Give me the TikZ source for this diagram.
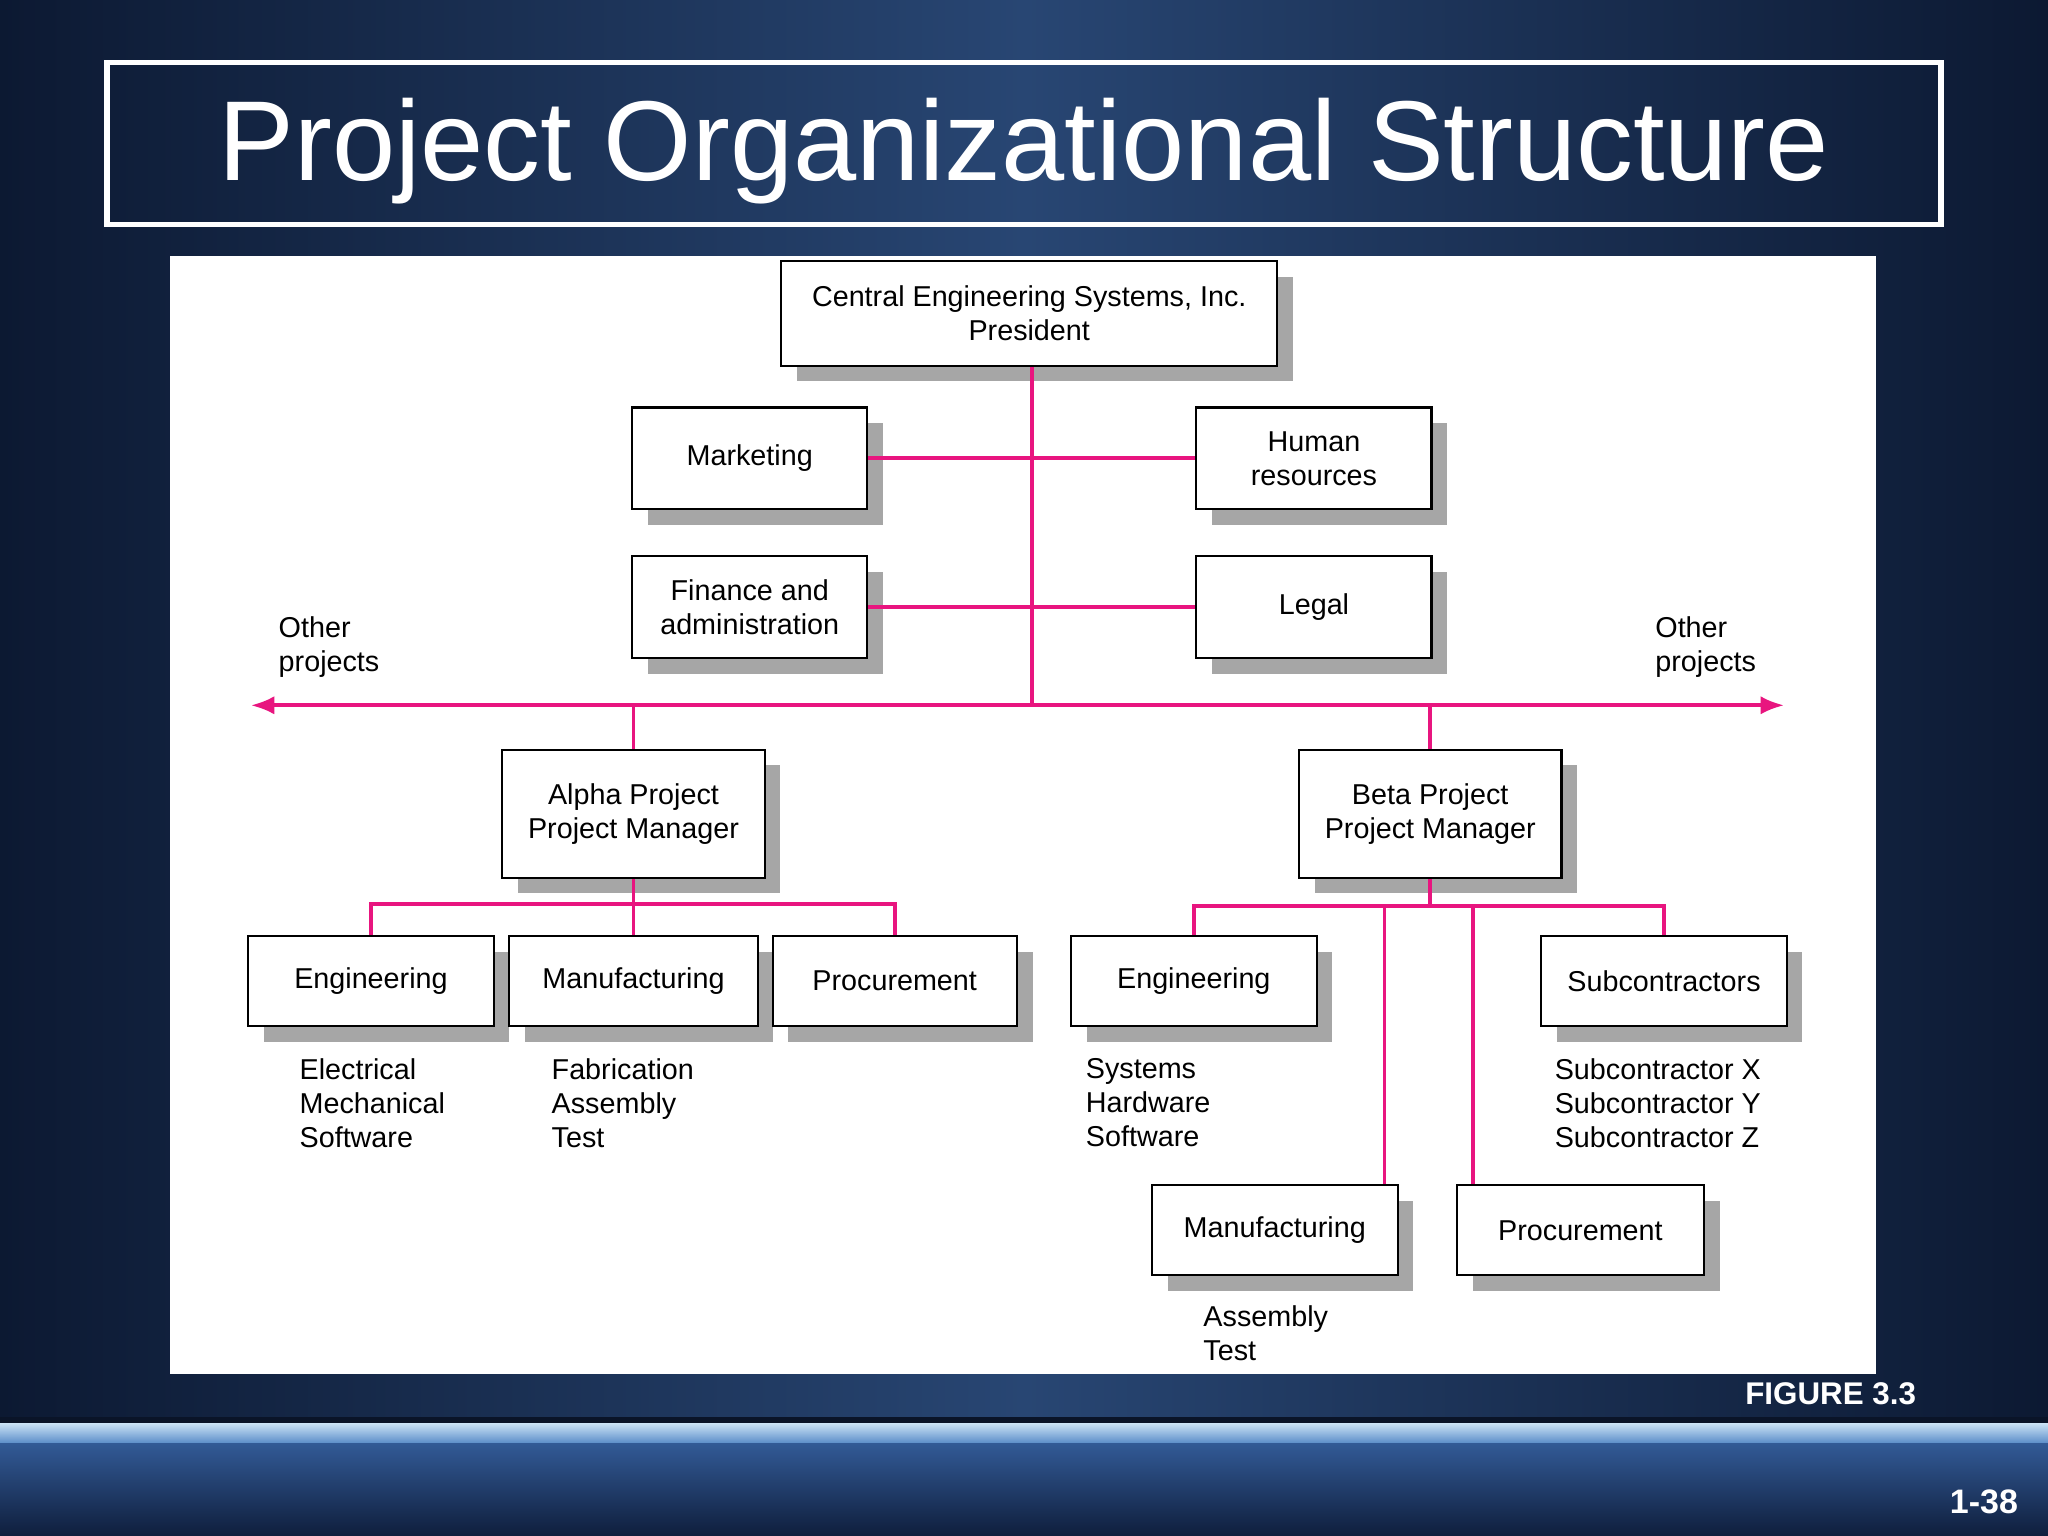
\documentclass[tikz,border=0pt]{standalone}
\usepackage{fontspec}
\setmainfont{Liberation Sans}
\usetikzlibrary{shadows,arrows.meta}
\definecolor{pinkl}{HTML}{E8157F}
\definecolor{bgmid}{RGB}{40,70,115}
\definecolor{bgdark}{RGB}{12,25,50}
\definecolor{bgdarker}{RGB}{10,20,40}
\definecolor{stripe}{RGB}{200,225,245}
\definecolor{stripeb}{RGB}{90,140,200}
\definecolor{bot1}{RGB}{50,90,150}
\definecolor{bot2}{RGB}{15,30,60}
\tikzset{
  box/.style={draw=black, thick, fill=white, align=center, font=\fontsize{11}{13}\selectfont,
    drop shadow={shadow xshift=6pt, shadow yshift=-6pt, fill=black!35, opacity=1}, inner sep=0pt},
  lbl/.style={align=left, anchor=north west, font=\fontsize{11}{13}\selectfont, inner sep=0pt},
  conn/.style={draw=pinkl, line width=1.5pt},
}
\begin{document}
\begin{tikzpicture}[x=0.5pt,y=-0.5pt]
\useasboundingbox (0,0) rectangle (1568,1176);
% background
\shade[left color=bgdark, right color=bgmid] (0,0) rectangle (784,1085);
\shade[left color=bgmid, right color=bgdark] (784,0) rectangle (1568,1085);
\fill[bgdarker] (0,1085) rectangle (1568,1090);
\shade[top color=stripe, bottom color=stripeb] (0,1090) rectangle (1568,1105);
\shade[top color=bot1, bottom color=bot2] (0,1105) rectangle (1568,1176);
% title
\draw[white, line width=2pt] (82,48) rectangle (1486,172);
\node[white, font=\fontsize{43.5}{46}\selectfont] (title) at (784,116) {Project Organizational Structure};
% panel
\fill[white] (130,196) rectangle (1436,1052);
% boxes
\node[box, minimum width=190pt, minimum height=40pt] (pres) at (788,240) {Central Engineering Systems, Inc.\\President};
\node[box, minimum width=90pt, minimum height=39pt] (mkt) at (574,351) {Marketing};
\node[box, minimum width=90pt, minimum height=39pt] (hr) at (1006,351) {Human\\resources};
\node[box, minimum width=90pt, minimum height=39pt] (fin) at (574,465) {Finance and\\administration};
\node[box, minimum width=90pt, minimum height=39pt] (legal) at (1006,465) {Legal};
\node[box, minimum width=100.5pt, minimum height=49pt] (alpha) at (485,623) {Alpha Project\\Project Manager};
\node[box, minimum width=100.5pt, minimum height=49pt] (beta) at (1095,623) {Beta Project\\Project Manager};
\node[box, minimum width=94pt, minimum height=34.5pt] (aeng) at (284,751) {Engineering};
\node[box, minimum width=95pt, minimum height=34.5pt] (aman) at (485,751) {Manufacturing};
\node[box, minimum width=93.5pt, minimum height=34.5pt] (apro) at (685,751) {Procurement};
\node[box, minimum width=94pt, minimum height=34.5pt] (beng) at (914,751) {Engineering};
\node[box, minimum width=94pt, minimum height=34.5pt] (bsub) at (1274,751) {Subcontractors};
\node[box, minimum width=94pt, minimum height=34.5pt] (bman) at (976,942) {Manufacturing};
\node[box, minimum width=94.5pt, minimum height=34.5pt] (bpro) at (1210,942) {Procurement};
% connectors
\coordinate (hub) at (790,540);
\coordinate (lend) at (192,540);
\coordinate (rend) at (1366,540);
\draw[conn] (pres.south -| hub) -- (hub);
\draw[conn, -{Latex[length=9pt,width=7pt]}] (hub) -- (lend);
\draw[conn, -{Latex[length=9pt,width=7pt]}] (hub) -- (rend);
\draw[conn] (mkt.east) -- (hr.west);
\draw[conn] (fin.east) -- (legal.west);
\draw[conn] (alpha.north) -- (alpha.north |- hub);
\draw[conn] (beta.north) -- (beta.north |- hub);
\coordinate (abus) at (485,692);
\draw[conn] (alpha.south) -- (aman.north);
\draw[conn] (aeng.north) -- (aeng.north |- abus) -- (apro.north |- abus) -- (apro.north);
\coordinate (bbus) at (1095,694);
\draw[conn] (beta.south) -- (bbus);
\draw[conn] (beng.north) -- (beng.north |- bbus) -- (bsub.north |- bbus) -- (bsub.north);
\coordinate (bm) at (1060,694);
\coordinate (bp) at (1128,694);
\draw[conn] (bm) -- (bm |- bman.north);
\draw[conn] (bp) -- (bp |- bpro.north);
% labels
\node[lbl] (l1) at (229,810) {Electrical\\Mechanical\\Software};
\node[lbl] (l2) at (422,810) {Fabrication\\Assembly\\Test};
\node[lbl] (l3) at (831,810) {Systems\\Hardware\\Software};
\node[lbl] (l4) at (1190,810) {Subcontractor X\\Subcontractor Y\\Subcontractor Z};
\node[lbl] (l5) at (921,999) {Assembly\\Test};
\node[lbl] (o1) at (213,472) {Other\\projects};
\node[lbl] (o2) at (1267,472) {Other\\projects};
\node[white, font=\bfseries\fontsize{12}{14}\selectfont, anchor=east] (fig) at (1474,1067) {FIGURE 3.3};
\node[white, font=\bfseries\fontsize{13}{15}\selectfont, anchor=east] (pg) at (1552,1150) {1-38};
\end{tikzpicture}
\end{document}
